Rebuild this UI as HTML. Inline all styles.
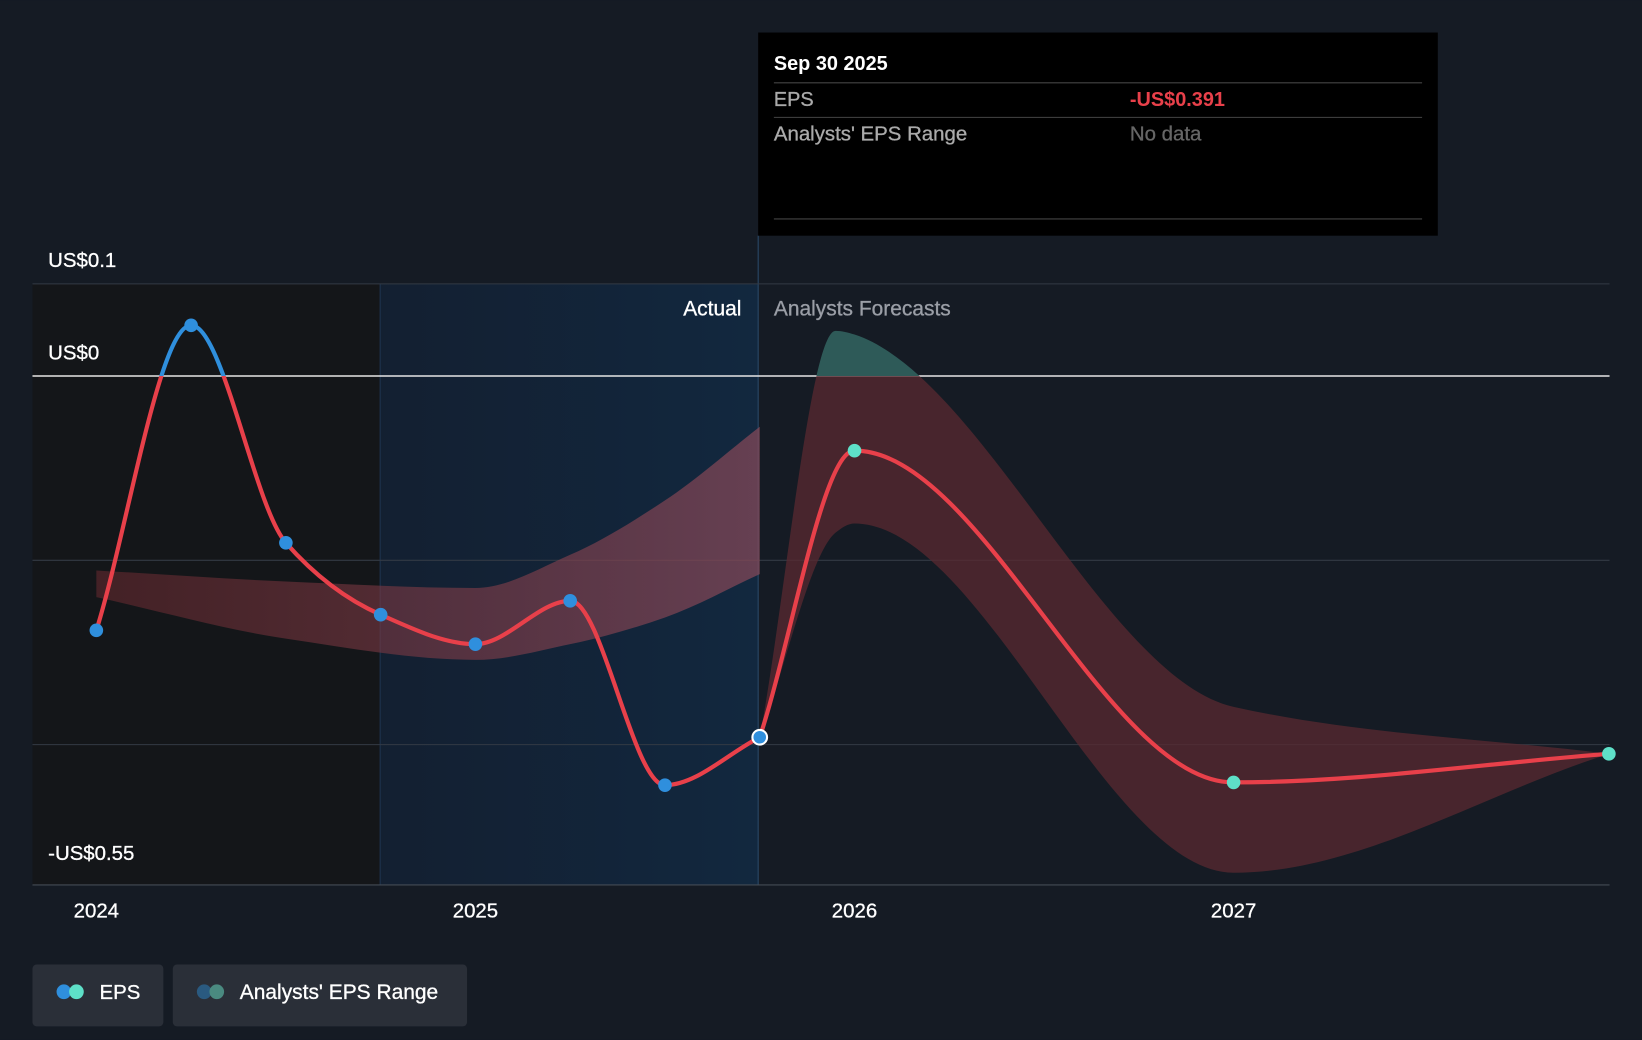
<!DOCTYPE html>
<html><head><meta charset="utf-8"><style>
html,body{margin:0;padding:0;background:#151b24;}
svg{display:block;font-family:"Liberation Sans",sans-serif;}
</style></head><body>
<svg id="chart" width="1642" height="1040" viewBox="0 0 1568 993" xmlns="http://www.w3.org/2000/svg">
<defs>
<linearGradient id="actualGrad" x1="0" x2="1" y1="0" y2="0"><stop offset="0" stop-color="#12233a" stop-opacity="0.6"/><stop offset="1" stop-color="#12283f"/></linearGradient>
<linearGradient id="pastBand" x1="0" x2="1" y1="0" y2="0"><stop offset="0" stop-color="#6a2a30" stop-opacity="0.55"/><stop offset="1" stop-color="#8a4a5a" stop-opacity="0.7"/></linearGradient>
<clipPath id="aboveZero"><rect x="0" y="0" width="1568" height="359"/></clipPath>
<clipPath id="belowZero"><rect x="0" y="359" width="1568" height="700"/></clipPath>
</defs>
<rect width="1568" height="993" fill="#151b24"/>
<rect x="31" y="271" width="332" height="574" fill="#141619"/>
<rect x="363" y="271" width="361" height="574" fill="url(#actualGrad)"/>
<line x1="363" y1="271" x2="363" y2="845" stroke="#1e3450" stroke-width="1"/>
<line x1="724" y1="225" x2="724" y2="845" stroke="#2a4a6a" stroke-width="1"/>
<g id="grid"></g>
<g id="bands"></g>
<g id="lines"></g>
<g id="points"></g>
<text x="708" y="301" fill="#fff" font-size="20" text-anchor="end" stroke="#fff" stroke-width="0.3">Actual</text>
<text x="739" y="301" fill="#9a9ea6" font-size="20" stroke="#9a9ea6" stroke-width="0.3">Analysts Forecasts</text>
<g>
<rect x="724" y="31" width="649" height="194" fill="#000"/>
<text x="739" y="67" fill="#fff" font-size="19" font-weight="bold">Sep 30 2025</text>
<line x1="739" y1="79" x2="1358" y2="79" stroke="#444"/>
<text x="739" y="101" fill="#aaa" font-size="19" stroke="#aaa" stroke-width="0.3">EPS</text>
<text x="1079" y="101" fill="#e8404a" font-size="19" font-weight="bold">-US$0.391</text>
<line x1="739" y1="112" x2="1358" y2="112" stroke="#444"/>
<text x="739" y="134" fill="#aaa" font-size="19.5" stroke="#aaa" stroke-width="0.3">Analysts' EPS Range</text>
<text x="1079" y="134" fill="#666" font-size="19.5" stroke="#666" stroke-width="0.3">No data</text>
<line x1="739" y1="209" x2="1358" y2="209" stroke="#444"/>
</g>
<g>
<g><rect x="31" y="921" width="125" height="59" rx="4" fill="#2a2f38"/>
<circle cx="61" cy="947" r="7" fill="#2f8fdd"/><circle cx="73" cy="947" r="7" fill="#5ee0c8"/>
<text x="95" y="954" fill="#fff" font-size="19.5" stroke="#fff" stroke-width="0.3">EPS</text></g>
<g><rect x="165" y="921" width="281" height="59" rx="4" fill="#2a2f38"/>
<circle cx="195" cy="947" r="7" fill="#2a5a80"/><circle cx="207" cy="947" r="7" fill="#4a8a80"/>
<text x="229" y="954" fill="#fff" font-size="20" stroke="#fff" stroke-width="0.3">Analysts' EPS Range</text></g>
</g>
</svg>
<script>
const epsDates=[2024.0,2024.25,2024.5,2024.75,2025.0,2025.25,2025.5,2025.75];
const epsValues=[-0.276,0.055,-0.181,-0.259,-0.291,-0.244,-0.444,-0.392];
const fcDates=[2025.75,2026.0,2027.0,2027.99];
const fcValues=[-0.392,-0.081,-0.441,-0.410];
const pastRangeDates=[2024.0,2024.5,2025.0,2025.25,2025.5,2025.75];
const pastRangeHigh=[-0.211,-0.223,-0.230,-0.194,-0.135,-0.055];
const pastRangeLow=[-0.240,-0.285,-0.308,-0.291,-0.262,-0.215];
const fcRangeDates=[2025.75,2025.95,2026.0,2027.0,2027.99];
const fcRangeHigh=[-0.392,0.049,0.045,-0.359,-0.410];
const fcRangeLow=[-0.392,-0.17,-0.160,-0.539,-0.410];
const yTicks=[0.1,0,-0.2,-0.4,-0.55];
const yTickLabels={"0.1":"US$0.1","0":"US$0","-0.55":"-US$0.55"};
const xTicks=[2024,2025,2026,2027];
const NS="http://www.w3.org/2000/svg";
const X=d=>92+(d-2024)*362;
const Y=v=>359-v*880;
function mk(tag,attrs,parent){const e=document.createElementNS(NS,tag);for(const k in attrs)e.setAttribute(k,attrs[k]);parent.appendChild(e);return e;}
function mono(xs,ys){const n=xs.length;const d=[],m=[];for(let i=0;i<n-1;i++)d.push((ys[i+1]-ys[i])/(xs[i+1]-xs[i]));
m[0]=d[0];m[n-1]=d[n-2];for(let i=1;i<n-1;i++){m[i]=d[i-1]*d[i]<=0?0:(2*d[i-1]*d[i])/(d[i-1]+d[i]);}
let p="";for(let i=0;i<n-1;i++){const h=(xs[i+1]-xs[i])/3;if(i===0)p+="M"+xs[0]+","+ys[0];
p+=" C"+(xs[i]+h)+","+(ys[i]+m[i]*h)+" "+(xs[i+1]-h)+","+(ys[i+1]-m[i+1]*h)+" "+xs[i+1]+","+ys[i+1];}return p;}
function curve(ds,vs){return mono(ds.map(X),vs.map(Y));}
function rev(ds,vs){return mono(ds.map(X).reverse(),vs.map(Y).reverse()).replace(/^M/,"L");}
const grid=document.getElementById('grid');
yTicks.forEach(t=>{const y=Y(t);
 if(t!==-0.55){const l=mk('line',{x1:31,x2:1537,y1:y,y2:y,stroke:t===0?'#e6e6e6':'#333a44','stroke-width':t===0?1.5:1},grid);
 }
 const lab=yTickLabels[String(t)];if(lab){const tx=mk('text',{x:46,y:y-16+(t===-0.55?-6:0),fill:'#fff','font-size':19.5,stroke:'#fff','stroke-width':0.3},grid);tx.textContent=lab;
 }});
const ax=mk('line',{x1:31,x2:1537,y1:845,y2:845,stroke:'#444b55'},grid);

xTicks.forEach(t=>{const tx=mk('text',{x:X(t),y:876,fill:'#fff','font-size':19.5,'text-anchor':'middle',stroke:'#fff','stroke-width':0.3},grid);tx.textContent=t;
 });
const bands=document.getElementById('bands');
const pb=mk('path',{d:curve(pastRangeDates,pastRangeHigh)+rev(pastRangeDates,pastRangeLow)+"Z",fill:'url(#pastBand)'},bands);

const fd=curve(fcRangeDates,fcRangeHigh)+rev(fcRangeDates,fcRangeLow)+"Z";
const fb=mk('path',{d:fd,fill:'#5a2a30','fill-opacity':0.75,'clip-path':'url(#belowZero)'},bands);

const fg=mk('path',{d:fd,fill:'#2e5a58','clip-path':'url(#aboveZero)'},bands);

const lines=document.getElementById('lines');
const ed=curve(epsDates,epsValues);
const l1=mk('path',{d:ed,fill:'none',stroke:'#e8404a','stroke-width':4,'clip-path':'url(#belowZero)'},lines);

const l2=mk('path',{d:ed,fill:'none',stroke:'#2f8fdd','stroke-width':4,'clip-path':'url(#aboveZero)'},lines);

const l3=mk('path',{d:curve(fcDates,fcValues),fill:'none',stroke:'#e8404a','stroke-width':4},lines);

const pts=document.getElementById('points');
epsDates.forEach((d,i)=>{const last=i===epsDates.length-1;
 const c=mk('circle',{cx:X(d),cy:Y(epsValues[i]),r:last?7:6.5,fill:'#2f8fdd',stroke:last?'#fff':'none','stroke-width':2},pts);
 });
fcDates.slice(1).forEach((d,i)=>{const c=mk('circle',{cx:X(d),cy:Y(fcValues[i+1]),r:6.5,fill:'#5ee0c8'},pts);
 });
</script>
</body></html>
